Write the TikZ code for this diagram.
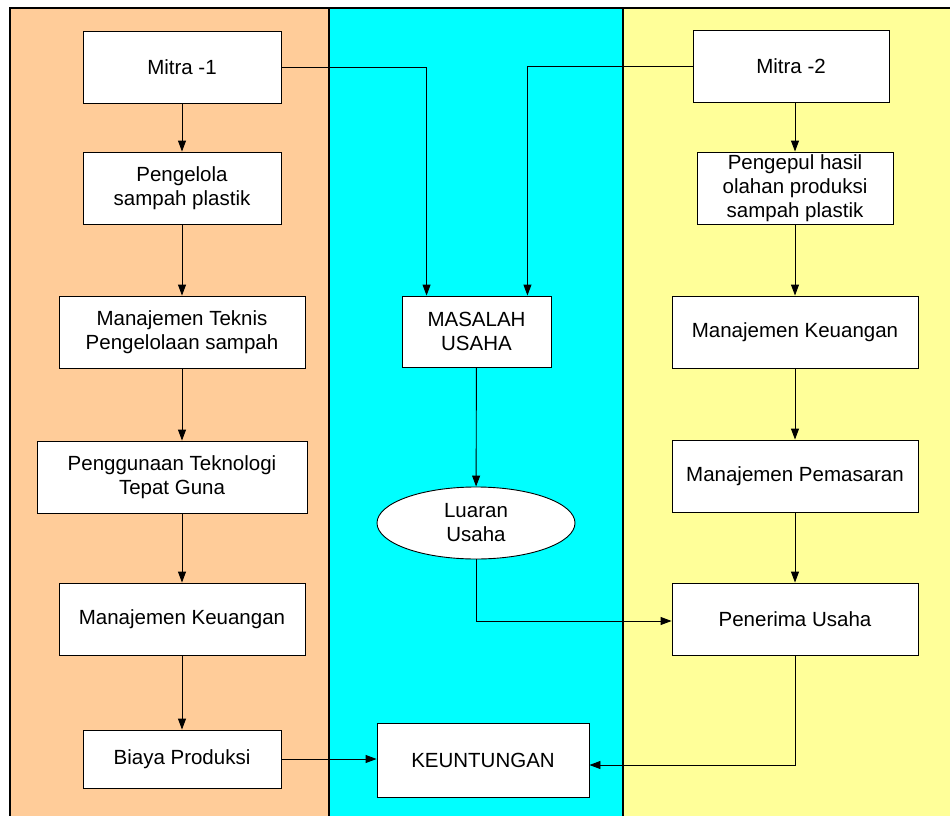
\documentclass[tikz,border=0pt]{standalone}
\usepackage{fontspec}
\setmainfont{Liberation Sans}
\usetikzlibrary{arrows.meta,shapes.geometric}
\definecolor{peach}{HTML}{FFCC99}
\definecolor{aqua}{HTML}{00FFFF}
\definecolor{lightyel}{HTML}{FFFF99}
\tikzset{
  box/.style={draw=black, fill=white, line width=0.9pt, inner sep=0pt, align=center,
    font=\fontsize{20.5pt}{24pt}\selectfont},
  oval/.style={box, ellipse},
  conn/.style={draw=black, line width=0.9pt, -{Triangle[length=11pt,width=8pt]}},
  frame/.style={draw=black, line width=1.2pt}
}
\begin{document}
\begin{tikzpicture}[x=1pt,y=-1pt]
\useasboundingbox (0,0) rectangle (950,816);
% backgrounds
\fill[peach] (10,8) rectangle (329,816);
\fill[aqua] (329,8) rectangle (623,816);
\fill[lightyel] (623,8) rectangle (950,816);
\draw[frame] (10,816) -- (10,8) -- (950,8);
\draw[frame] (329,8) -- (329,816);
\draw[frame] (623,8) -- (623,816);
% left column
\node[box, minimum width=198pt, minimum height=72pt] (m1) at (182,67) {Mitra -1};
\node[box, minimum width=198pt, minimum height=72pt] (peng) at (182,188) {Pengelola\\sampah plastik};
\node[box, minimum width=246pt, minimum height=72pt] (mt) at (182,332) {Manajemen Teknis\\Pengelolaan sampah};
\node[box, minimum width=270pt, minimum height=72pt] (pt) at (172,477) {Penggunaan Teknologi\\Tepat Guna};
\node[box, minimum width=246pt, minimum height=72pt] (mk1) at (182,619) {Manajemen Keuangan};
\node[box, minimum width=198pt, minimum height=58pt] (bp) at (182,759) {Biaya Produksi};
% middle column
\node[box, minimum width=149pt, minimum height=71pt] (mu) at (476.5,331.5) {MASALAH\\USAHA};
\node[oval, minimum width=198pt, minimum height=72pt] (lu) at (476,523) {Luaran\\Usaha};
\node[box, minimum width=212pt, minimum height=74pt] (ke) at (483,760) {KEUNTUNGAN};
% right column
\node[box, minimum width=196pt, minimum height=72pt] (m2) at (791,66) {Mitra -2};
\node[box, minimum width=196pt, minimum height=72pt] (pg) at (795,188) {Pengepul hasil\\olahan produksi\\sampah plastik};
\node[box, minimum width=246pt, minimum height=72pt] (mk2) at (795,332) {Manajemen Keuangan};
\node[box, minimum width=246pt, minimum height=72pt] (mp) at (795,476) {Manajemen Pemasaran};
\node[box, minimum width=246pt, minimum height=72pt] (pu) at (795,619) {Penerima Usaha};
% connectors left
\draw[conn] (m1) -- (peng);
\draw[conn] (peng.south -| 182,0) -- (mt.north -| 182,0);
\draw[conn] (mt.south -| 182,0) -- (pt.north -| 182,0);
\draw[conn] (pt.south -| 182,0) -- (mk1.north -| 182,0);
\draw[conn] (mk1) -- (bp);
\draw[conn] (bp.east) -- (ke.west |- bp.east);
% middle
\draw[conn] (m1.east) -| ([xshift=25pt]mu.north west);
\draw[conn] (m2.west) -| ([xshift=-24pt]mu.north east);
\draw[conn] (mu) -- (lu);
\draw[conn] (lu.south) |- ([yshift=-2pt]pu.west);
% right
\draw[conn] (pg.north |- m2.south) -- (pg.north);
\draw[conn] (pg) -- (mk2);
\draw[conn] (mk2) -- (mp);
\draw[conn] (mp) -- (pu);
\draw[conn] (pu.south) |- ([yshift=-5pt]ke.east);
\end{tikzpicture}
\end{document}
